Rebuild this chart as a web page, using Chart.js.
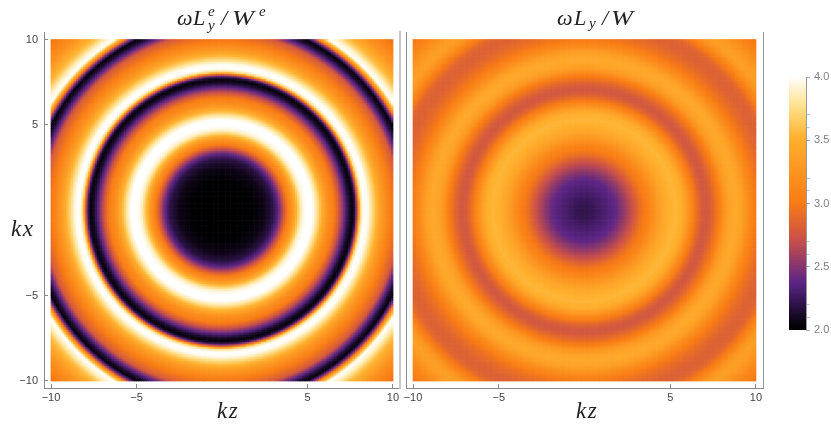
<!DOCTYPE html>
<html><head><meta charset="utf-8">
<script src="https://cdn.jsdelivr.net/npm/chart.js@4/dist/chart.umd.min.js"></script>
<style>
html,body{margin:0;padding:0;background:#fff;width:831px;height:427px;overflow:hidden}
.box{position:absolute;top:0;height:427px}
.t{position:absolute;font-family:"Liberation Serif",serif;font-style:italic;color:#222;white-space:nowrap;line-height:1}
.m{font-size:22px}
.s{font-size:15px}
</style></head><body>
<div class="box" style="left:0;width:402px"><canvas id="left"></canvas></div>
<div class="box" style="left:402px;width:366px"><canvas id="right"></canvas></div>
<div class="box" style="left:770px;width:61px"><canvas id="bar"></canvas></div>
<span class="t m" style="left:177px;top:7px">ω</span><span class="t m" style="left:193px;top:7px">L</span><span class="t s" style="left:208px;top:4px">e</span><span class="t s" style="left:208px;top:18px">y</span><span class="t m" style="left:221px;top:7px">/</span><span class="t m" style="left:232px;top:7px;transform:scaleX(1.2);transform-origin:left">W</span><span class="t s" style="left:259px;top:4px">e</span>
<span class="t m" style="left:557px;top:7px">ω</span><span class="t m" style="left:574px;top:7px">L</span><span class="t s" style="left:589px;top:16px">y</span><span class="t m" style="left:602px;top:7px">/</span><span class="t m" style="left:611px;top:7px;transform:scaleX(1.2);transform-origin:left">W</span>
<div class="t" style="left:11px;top:217px;font-size:23px;letter-spacing:1.5px">kx</div>
<div class="t" style="left:217px;top:399px;font-size:23px;letter-spacing:1.5px">kz</div>
<div class="t" style="left:576px;top:399px;font-size:23px;letter-spacing:1.5px">kz</div>
<script>
const tickValues = [-10, -5, 5, 10];
const barTicks = [2, 2.1, 2.2, 2.5, 2.6, 2.7, 3, 3.1, 3.2, 3.5, 3.6, 3.7, 4];
const barLabels = [2, 2.5, 3, 3.5, 4];
const radii1 = [0,1.8,2.5,3.0,3.3,3.6,3.85,4.1,4.4,4.7,4.95,5.3,5.5,5.8,6.2,6.6,6.9,7.2,7.45,7.65,7.8,7.95,8.1,8.3,8.55,8.85,9.35,9.9,10.4,10.7,10.95,11.15,11.35,11.55,11.8,12.05,12.4,13.2,14.2];
const values1 = [2.0,2.01,2.06,2.18,2.36,2.7,3.0,3.2,3.55,3.9,4.0,4.0,3.85,3.55,3.2,3.0,2.72,2.38,2.12,2.02,2.2,2.8,3.7,4.0,3.97,3.7,3.3,3.0,2.78,2.38,2.12,2.02,2.5,3.3,4.0,3.9,3.6,3.2,2.9];
const radii2 = [0,0.5,1,1.5,1.85,2.3,2.85,3.3,3.8,4.2,4.6,5,5.35,5.7,6,6.3,6.6,6.85,7.05,7.25,7.5,7.9,8.2,8.5,8.85,9.2,9.6,10,10.4,10.8,11.1,11.4,11.8,12.2,12.5,12.9,13.5,14.2];
const values2 = [2.2,2.22,2.28,2.33,2.38,2.52,2.72,2.92,3.08,3.25,3.4,3.5,3.53,3.48,3.3,3.08,2.9,2.79,2.75,2.77,2.85,3.02,3.25,3.38,3.43,3.35,3.15,2.98,2.89,2.83,2.82,2.85,3.02,3.25,3.34,3.28,3.1,2.95];
const colorValues = [2.0,2.18,2.36,2.7,3.0,3.5,3.75,4.0];
const colorStops = ['#000000','#2b1245','#5c2585','#c9504a','#f97c14','#ffb02e','#ffe08c','#ffffff'];

const rgb = colorStops.map(c=>[1,3,5].map(i=>parseInt(c.substr(i,2),16)));
function lookup(xs,ys,x){
  if(x<=xs[0])return ys[0];
  for(let i=1;i<xs.length;i++) if(x<=xs[i]){
    const t=(x-xs[i-1])/(xs[i]-xs[i-1]);return ys[i-1]+t*(ys[i]-ys[i-1]);
  }
  return ys[ys.length-1];
}
function colorOf(v){
  v=Math.max(2,Math.min(4,v));
  let i=1;while(i<colorValues.length-1&&v>colorValues[i])i++;
  const t=(v-colorValues[i-1])/(colorValues[i]-colorValues[i-1]);
  const c=rgb[i-1].map((a,k)=>Math.round(a+t*(rgb[i][k]-a)));
  return `rgb(${c[0]},${c[1]},${c[2]})`;
}
function cells(rs,vs){
  const d=[];
  for(let i=0;i<200;i++)for(let j=0;j<200;j++){
    const x=-9.95+i*0.1,y=-9.95+j*0.1;
    d.push({x,y,v:lookup(rs,vs,Math.hypot(x,y))});
  }
  return d;
}
const tickFont={family:'"Liberation Sans",Arial,sans-serif',size:11};
const noPad=a=>{a.paddingLeft=0;a.paddingRight=0;a.paddingTop=0;a.paddingBottom=0};
function heat(id,rs,vs,o){
  new Chart(document.getElementById(id),{
    type:'scatter',
    data:{datasets:[{data:cells(rs,vs),pointStyle:'rect',pointRadius:1.65,pointHoverRadius:1.65,pointBorderWidth:0,
      pointBackgroundColor:c=>c.raw?colorOf(c.raw.v):'#000'}]},
    options:{responsive:true,maintainAspectRatio:false,animation:false,events:[],parsing:false,normalized:true,
      layout:{padding:{left:o.padLeft,right:o.padRight,top:32,bottom:0}},
      plugins:{legend:{display:false},tooltip:{enabled:false}},
      scales:{
        x:{type:'linear',position:'bottom',min:-10.41,max:10.41,
          afterBuildTicks:a=>{a.ticks=tickValues.map(v=>({value:v}))},
          afterFit:a=>{a.height=39;noPad(a)},
          grid:{drawOnChartArea:false,color:'#888',tickLength:-4},
          border:{color:'#888',width:1},
          ticks:{autoSkip:false,maxRotation:0,padding:7,font:tickFont,color:'#444',callback:v=>String(v).replace('-','\u2212')}},
        y:{type:'linear',position:'left',min:-10.41,max:10.44,
          afterBuildTicks:a=>{a.ticks=tickValues.map(v=>({value:v}))},
          afterFit:a=>{a.width=o.yWidth;noPad(a)},
          grid:{drawOnChartArea:false,color:'#888',drawTicks:o.yLabels,tickLength:-4},
          border:{color:'#888',width:1},
          ticks:{autoSkip:false,display:o.yLabels,padding:10,font:tickFont,color:'#444',callback:v=>String(v).replace('-','\u2212')}},
        y2:{type:'linear',position:'right',min:-10.41,max:10.44,
          afterFit:a=>{a.width=0;noPad(a)},
          grid:{display:false,drawTicks:false},
          border:{color:o.rightColor,width:o.rightWidth},
          ticks:{display:false}}
      }
    }
  });
}
heat('left',radii1,values1,{padLeft:0,padRight:2,yWidth:44,yLabels:true,rightColor:'#c8c8c8',rightWidth:2});
heat('right',radii2,values2,{padLeft:4,padRight:5,yWidth:0,yLabels:false,rightColor:'#999',rightWidth:1});

const levels=[];for(let i=0;i<100;i++)levels.push(2+i*0.02);
new Chart(document.getElementById('bar'),{
  type:'bar',
  data:{labels:['scale'],datasets:levels.map(v=>({data:[[v,Math.min(4,v+0.03)]],backgroundColor:colorOf(v+0.01),borderWidth:0,barPercentage:1,categoryPercentage:1}))},
  options:{responsive:true,maintainAspectRatio:false,animation:false,events:[],
    layout:{padding:{left:19,right:0,top:77,bottom:97}},
    plugins:{legend:{display:false},tooltip:{enabled:false}},
    scales:{
      x:{display:false,stacked:true,grid:{display:false}},
      y:{position:'right',min:2,max:4,
        afterBuildTicks:a=>{a.ticks=barTicks.map(v=>({value:v}))},
        afterFit:a=>{a.width=25;noPad(a)},
        grid:{drawOnChartArea:false,tickLength:4,color:c=>barLabels.includes(c.tick&&c.tick.value)?'#aaa':'#ccc'},
        border:{color:'#999',width:1},
        ticks:{autoSkip:false,padding:4,font:tickFont,color:'#808080',
          callback:v=>barLabels.includes(v)?v.toFixed(1):''}}
    }
  }
});
</script>
</body></html>
